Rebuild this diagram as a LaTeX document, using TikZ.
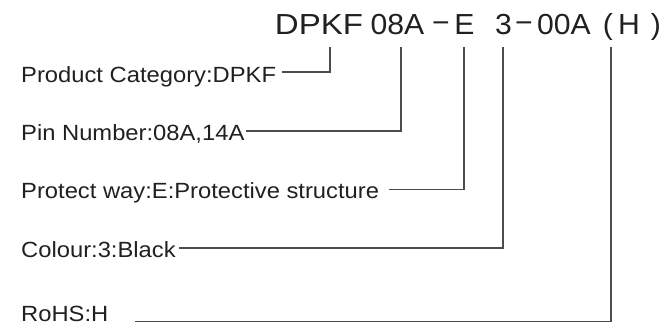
\documentclass[tikz,border=0pt]{standalone}
\usepackage{fontspec}
\setmainfont{Liberation Sans}[FakeStretch=1.08]
\newfontfamily\codefont{Liberation Sans}[FakeStretch=1.04]
\newfontfamily\widecodefont{Liberation Sans}[FakeStretch=1.14]
\usetikzlibrary{positioning}
\definecolor{txtcol}{RGB}{35,31,32}
\definecolor{linecol}{RGB}{80,75,75}
\tikzset{
  code/.style={font=\codefont\fontsize{29}{29}\selectfont, text=txtcol, inner sep=0pt, anchor=base},
  lbl/.style={font=\fontsize{22}{22}\selectfont, text=txtcol, inner sep=0pt, anchor=base west},
  lead/.style={draw=linecol, line width=1.8pt}
}

\begin{document}
\begin{tikzpicture}[x=1pt, y=-1pt]
    \useasboundingbox (0,0) rectangle (665,329);

    % 型号
    \node[code, font=\widecodefont\fontsize{29}{29}\selectfont] (dpkf) at (319,35) {DPKF};
    \node[code] (pinno) at (397.5,35) {08A};
    \node[code] (dasha) at (441,33) {−};
    \node[code] (prot) at (464.5,35) {E};
    \node[code] (colno) at (503.5,35) {3};
    \node[code] (dashb) at (524,33) {−};
    \node[code] (tail) at (564,35) {00A};
    \node[code] (lpar) at (608,35) {(};
    \node[code] (rohsno) at (629,35) {H};
    \node[code] (rpar) at (656,35) {)};

    % 说明
    \node[lbl] (cat) at (21,82.5) {Product Category:DPKF};
    \node[lbl] (num) at (21,140) {Pin Number:08A,14A};
    \node[lbl] (way) at (21,198.5) {Protect way:E:Protective structure};
    \node[lbl] (colour) at (21,257) {Colour:3:Black};
    \node[lbl] (rohs) at (21,321.5) {RoHS:H};

    % 引线端点
    \coordinate (t1) at (330,47);
    \coordinate (t2) at (400.7,47);
    \coordinate (t3) at (464,47);
    \coordinate (t4) at (503,47);
    \coordinate (t5) at (610.7,47);
    \coordinate (e1) at (282,72.3);
    \coordinate (e2) at (246,131);
    \coordinate (e3) at (389,189.5);
    \coordinate (e4) at (179,247.7);
    \coordinate (e5) at (135,321.5);

    % 引线
    \draw[lead] (t1) |- (e1);
    \draw[lead] (t2) |- (e2);
    \draw[lead] (t3) |- (e3);
    \draw[lead] (t4) |- (e4);
    \draw[lead] (t5) |- (e5);
\end{tikzpicture}
\end{document}
